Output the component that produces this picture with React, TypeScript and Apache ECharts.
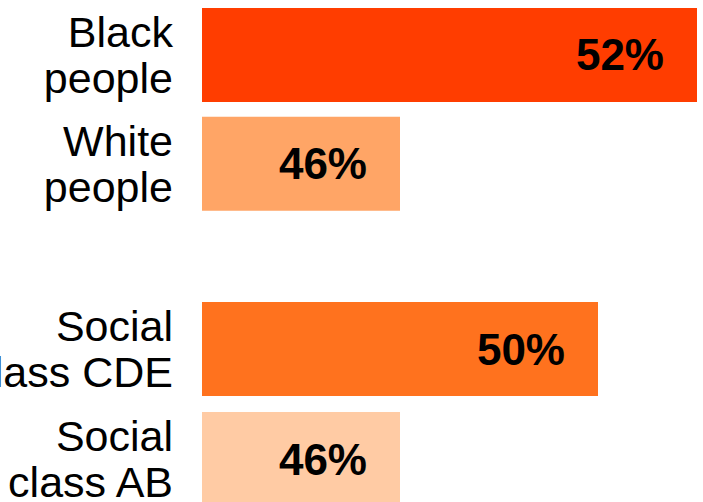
import React, { useEffect, useRef } from "react";
import * as echarts from "echarts";

const raceCategories = ["Black\npeople", "White\npeople"];
const raceValues = [52, 46];
const raceColors = ["#FF3D00", "#FFA566"];

const classCategories = ["Social\nclass CDE", "Social\nclass AB"];
const classValues = [50, 46];
const classColors = ["#FF721E", "#FFCBA4"];

const FONT = "'Liberation Sans', Arial, Helvetica, sans-serif";

export default function App() {
  const ref = useRef<HTMLDivElement>(null);
  useEffect(() => {
    if (!ref.current) return;
    const chart = echarts.init(ref.current, null, { renderer: "svg" });
    const xAxisBase = {
      type: "value",
      min: 42,
      max: 52,
      show: false,
      splitLine: { show: false },
    };
    const yAxisBase = {
      type: "category",
      inverse: true,
      axisLine: { show: false },
      axisTick: { show: false },
      splitLine: { show: false },
      axisLabel: {
        fontFamily: FONT,
        fontSize: 43,
        lineHeight: 46,
        color: "#000",
        align: "right",
        margin: 29,
      },
    };
    const labelBase = {
      show: true,
      position: "insideRight",
      distance: 33,
      formatter: "{c}%",
      fontFamily: FONT,
      fontSize: 44,
      fontWeight: "bold",
      color: "#000",
    };
    chart.setOption({
      animation: false,
      grid: [
        { left: 202, right: 6, top: 0.5, height: 217.5, containLabel: false, outerBoundsMode: "none" },
        { left: 202, right: 6, top: 294, height: 220, containLabel: false, outerBoundsMode: "none" },
      ],
      xAxis: [
        { ...xAxisBase, gridIndex: 0 },
        { ...xAxisBase, gridIndex: 1 },
      ],
      yAxis: [
        { ...yAxisBase, gridIndex: 0, data: raceCategories },
        { ...yAxisBase, gridIndex: 1, data: classCategories },
      ],
      series: [
        {
          type: "bar",
          xAxisIndex: 0,
          yAxisIndex: 0,
          barWidth: 94,
          label: labelBase,
          data: raceValues.map((v, i) => ({ value: v, itemStyle: { color: raceColors[i] } })),
        },
        {
          type: "bar",
          xAxisIndex: 1,
          yAxisIndex: 1,
          barWidth: 94,
          label: labelBase,
          data: classValues.map((v, i) => ({ value: v, itemStyle: { color: classColors[i] } })),
        },
      ],
    });
    return () => chart.dispose();
  }, []);
  return (
    <div
      ref={ref}
      style={{ position: "absolute", left: 0, top: 0, width: 703, height: 502, background: "#fff" }}
    />
  );
}
